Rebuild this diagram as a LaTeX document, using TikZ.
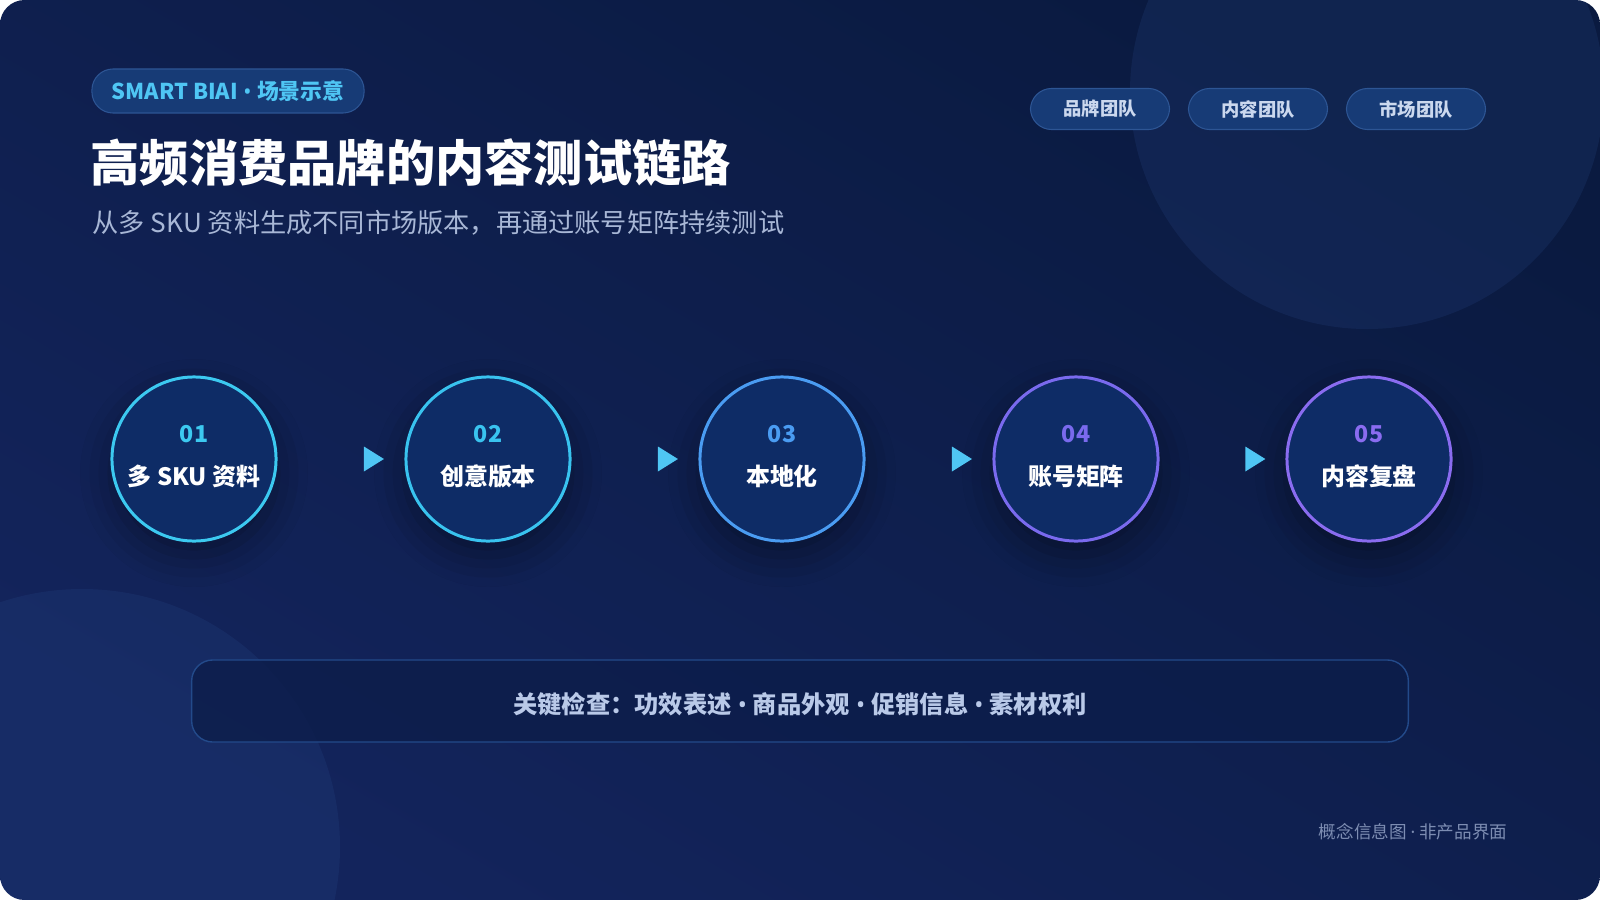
\documentclass[tikz,border=0pt]{standalone}
\usepackage{fontspec}
\setmainfont{Noto Sans CJK SC}
\newfontfamily\latinf{Noto Sans}
\usetikzlibrary{calc,shadows.blur}

\definecolor{bgA}{HTML}{0A1A40}
\definecolor{bgB}{HTML}{13245C}
\definecolor{blobc}{HTML}{2A4C8E}
\definecolor{pillfill}{HTML}{173B76}
\definecolor{pillline}{HTML}{2D5594}
\definecolor{cyanc}{HTML}{4FC6F4}
\definecolor{tagtext}{HTML}{CBD8EE}
\definecolor{subtext}{HTML}{A8B7D6}
\definecolor{ringA}{HTML}{3CC9F0}
\definecolor{ringB}{HTML}{39C3EF}
\definecolor{ringC}{HTML}{4A9CF2}
\definecolor{ringD}{HTML}{7A6AEE}
\definecolor{ringE}{HTML}{8A6CF0}
\definecolor{stepfill}{HTML}{0E2C66}
\definecolor{boxfill}{HTML}{0C1D4A}
\definecolor{boxline}{HTML}{234A8A}
\definecolor{boxtext}{HTML}{B9C9E8}
\definecolor{foottext}{HTML}{7D8DB2}
\newcommand\sepdot{\hspace{0.25em}{\latinf •}\hspace{0.25em}}

\begin{document}
\begin{tikzpicture}[x=0.01cm,y=-0.01cm]
\tikzstyle{every node}=[inner sep=0pt,align=center]
\tikzstyle{pill}=[rounded corners=6pt,fill=pillfill,draw=pillline,line width=0.3pt]
\tikzstyle{stepc}=[circle,minimum size=1.64cm,fill=stepfill,line width=0.85pt,
  blur shadow={shadow xshift=0pt,shadow yshift=-4pt,shadow blur radius=9pt,shadow opacity=40}]
\tikzstyle{num}=[font=\fontsize{6.6}{8}\selectfont\bfseries]
\tikzstyle{lbl}=[font=\fontsize{6.8}{8}\selectfont\bfseries,text=white]
\useasboundingbox (0,0) rectangle (1600,900);
\fill[white] (0,0) rectangle (1600,900);
\begin{scope}
\clip[rounded corners=7pt] (0,0) rectangle (1600,900);
\shade[left color=bgA,right color=bgB,shading angle=-30] (0,0) rectangle (1600,900);
\fill[blobc,opacity=0.2] (1367,92) circle (237);
\fill[blobc,opacity=0.2] (82,847) circle (258);
\end{scope}
% header
\node[pill,minimum width=2.72cm,minimum height=0.44cm] (tag) at (228,91) {};
\node[font=\fontsize{6.2}{8}\selectfont\bfseries,text=cyanc] at (tag) {SMART BIAI\sepdot 场景示意};
\node[anchor=west,font=\fontsize{14}{17}\selectfont\bfseries,text=white] (title) at (90,163) {高频消费品牌的内容测试链路};
\node[anchor=west,font=\fontsize{7.45}{9}\selectfont,text=subtext] (sub) at (92,223) {从多 SKU 资料生成不同市场版本，再通过账号矩阵持续测试};
% teams
\node[pill,minimum width=1.39cm,minimum height=0.41cm,font=\fontsize{5.2}{6}\selectfont\bfseries,text=tagtext] (t1) at (1100,109) {品牌团队};
\node[pill,minimum width=1.39cm,minimum height=0.41cm,font=\fontsize{5.2}{6}\selectfont\bfseries,text=tagtext] (t2) at (1258,109) {内容团队};
\node[pill,minimum width=1.39cm,minimum height=0.41cm,font=\fontsize{5.2}{6}\selectfont\bfseries,text=tagtext] (t3) at (1416,109) {市场团队};
% steps
\node[stepc,draw=ringA] (s1) at (194,459) {};
\node[stepc,draw=ringB] (s2) at (488,459) {};
\node[stepc,draw=ringC] (s3) at (782,459) {};
\node[stepc,draw=ringD] (s4) at (1076,459) {};
\node[stepc,draw=ringE] (s5) at (1369,459) {};
\node[num,text=ringA] at ($(s1)+(0,-25)$) {01};
\node[lbl] at ($(s1)+(0,17)$) {多 SKU 资料};
\node[num,text=ringB] at ($(s2)+(0,-25)$) {02};
\node[lbl] at ($(s2)+(0,17)$) {创意版本};
\node[num,text=ringC] at ($(s3)+(0,-25)$) {03};
\node[lbl] at ($(s3)+(0,17)$) {本地化};
\node[num,text=ringD] at ($(s4)+(0,-25)$) {04};
\node[lbl] at ($(s4)+(0,17)$) {账号矩阵};
\node[num,text=ringE] at ($(s5)+(0,-25)$) {05};
\node[lbl] at ($(s5)+(0,17)$) {内容复盘};
% arrows
\coordinate (a1) at ($(s1)!0.612!(s2)$);
\coordinate (a2) at ($(s2)!0.612!(s3)$);
\coordinate (a3) at ($(s3)!0.612!(s4)$);
\coordinate (a4) at ($(s4)!0.612!(s5)$);
\fill[cyanc] (a1) ++(-10,-12.5) -- ++(20,12.5) -- ++(-20,12.5) -- cycle;
\fill[cyanc] (a2) ++(-10,-12.5) -- ++(20,12.5) -- ++(-20,12.5) -- cycle;
\fill[cyanc] (a3) ++(-10,-12.5) -- ++(20,12.5) -- ++(-20,12.5) -- cycle;
\fill[cyanc] (a4) ++(-10,-12.5) -- ++(20,12.5) -- ++(-20,12.5) -- cycle;
% checks
\node[rounded corners=6pt,fill=boxfill,fill opacity=0.8,draw=boxline,line width=0.4pt,
  minimum width=12.16cm,minimum height=0.82cm] (box) at (800,701) {};
\node[font=\fontsize{6.9}{8}\selectfont\bfseries,text=boxtext] at ($(box)+(0,3)$) {关键检查：功效表述\sepdot 商品外观\sepdot 促销信息\sepdot 素材权利};
\node[anchor=east,font=\fontsize{5}{6}\selectfont,text=foottext] (foot) at (1508,832) {概念信息图 {\latinf ·} 非产品界面};
\end{tikzpicture}
\end{document}
